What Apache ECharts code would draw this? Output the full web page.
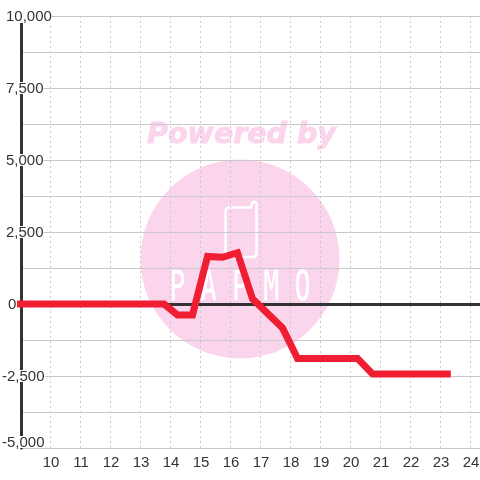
<!DOCTYPE html>
<html><head><meta charset="utf-8">
<style>html,body{margin:0;padding:0;background:#fff}#c{width:480px;height:480px}</style>
<script src="https://cdn.jsdelivr.net/npm/echarts@6/dist/echarts.min.js"></script>
</head><body><div id="c"></div>
<script>
const times=[8.9,13.8,14.25,14.75,15.25,15.75,16.25,16.75,17.75,18.25,20.25,20.75,23.36];
const values=[0,0,-380,-380,1650,1620,1780,180,-830,-1890,-1890,-2430,-2430];
const yTicks={'-5000':'-5,000','-2500':'-2,500','0':'0','2500':'2,500','5000':'5,000','7500':'7,500','10000':'10,000'};
const xMin=9,xMax=24.333;
const grey='#c9c9c9',dark='#333333',red='#f01e32',pink='#fbd5ec';
const font={fontFamily:'Liberation Sans',fontSize:15,color:dark};
const yLabel=v=>{
  const t=yTicks[String(v)];
  if(v<0) return '{n|'+t+'}';
  if(v===0) return '{z|'+t+'}';
  if(v===10000) return '{m|'+t+'}';
  return '{p|'+t+'}';
};
const chart=echarts.init(document.getElementById('c'),null,{renderer:'canvas'});
chart.setOption({
 animation:false,
 backgroundColor:'#fff',
 grid:{left:20,right:0,top:16,bottom:32,outerBoundsMode:'none',containLabel:false},
 xAxis:[{type:'value',min:xMin,max:xMax,interval:1,position:'bottom',
   axisLine:{show:false},axisTick:{show:false},
   axisLabel:{...font,margin:7,padding:[0,0,0,2],showMinLabel:false,showMaxLabel:false,
     formatter:v=>Number.isInteger(v)?String(v):''},
   splitLine:{show:true,lineStyle:{color:grey,type:[2,3],width:1}}},
  {type:'value',min:xMin,max:xMax,interval:1,z:2,axisLine:{show:true,onZero:true,lineStyle:{color:dark,width:3}},
   axisTick:{show:false},axisLabel:{show:false},splitLine:{show:false}}],
 yAxis:[{type:'value',min:-5000,max:10000,interval:2500,z:1,
   axisLine:{show:false},axisTick:{show:false},axisLabel:{show:false},
   splitLine:{show:true,lineStyle:{color:grey,width:1}},
   minorTick:{show:false,splitNumber:2},
   minorSplitLine:{show:true,lineStyle:{color:grey,width:1}}},
  {type:'value',position:'left',offset:-1,min:-5000,max:10000,interval:2500,z:2,
   axisLine:{show:true,onZero:false,lineStyle:{color:dark,width:3}},axisTick:{show:false},splitLine:{show:false},
   axisLabel:{...font,align:'left',margin:19,verticalAlignMinLabel:'bottom',backgroundColor:'#fff',
     formatter:yLabel,
     rich:{
       n:{...font,lineHeight:12,padding:[2,0,0,0]},
       z:{...font,lineHeight:12,padding:[2,0,0,6]},
       p:{...font,lineHeight:12,padding:[2,0,0,4]},
       m:{...font,lineHeight:14,padding:[2,0,0,4]}
     }}}],
 series:[{type:'line',xAxisIndex:0,yAxisIndex:0,z:3,clip:false,showSymbol:false,symbol:'none',
   data:times.map((t,i)=>[t,values[i]]),lineStyle:{color:red,width:7,cap:'butt',join:'miter'}}],
 graphic:[
  {type:'circle',z:-10,silent:true,shape:{cx:240,cy:259,r:99.5},style:{fill:pink}},
  {type:'text',z:-10,silent:true,x:241.5,y:136,style:{text:'Powered by',fill:pink,stroke:pink,lineWidth:1,font:'italic bold 28.5px "DejaVu Sans"',align:'center',verticalAlign:'middle'}},
  {type:'polyline',z:-9,silent:true,shape:{points:[[228,207.5],[251,207.5],[252,203.5],[253.5,201.8],[255.5,202],[256.5,204],[256.5,254],[255.5,256],[253,257],[228,257],[226.3,256],[225.5,254],[225.5,211],[226.3,208.5],[228,207.5]]},style:{fill:'none',stroke:'#fff',lineWidth:2.5,lineJoin:'round'}},
  {type:'text',z:-9,silent:true,x:240,y:290,scaleY:1.55,style:{text:'P A P M O',fill:'#fff',stroke:'#fff',lineWidth:0.3,font:'26px "DejaVu Sans Mono"',align:'center',verticalAlign:'middle'}}
 ]
});
</script></body></html>
